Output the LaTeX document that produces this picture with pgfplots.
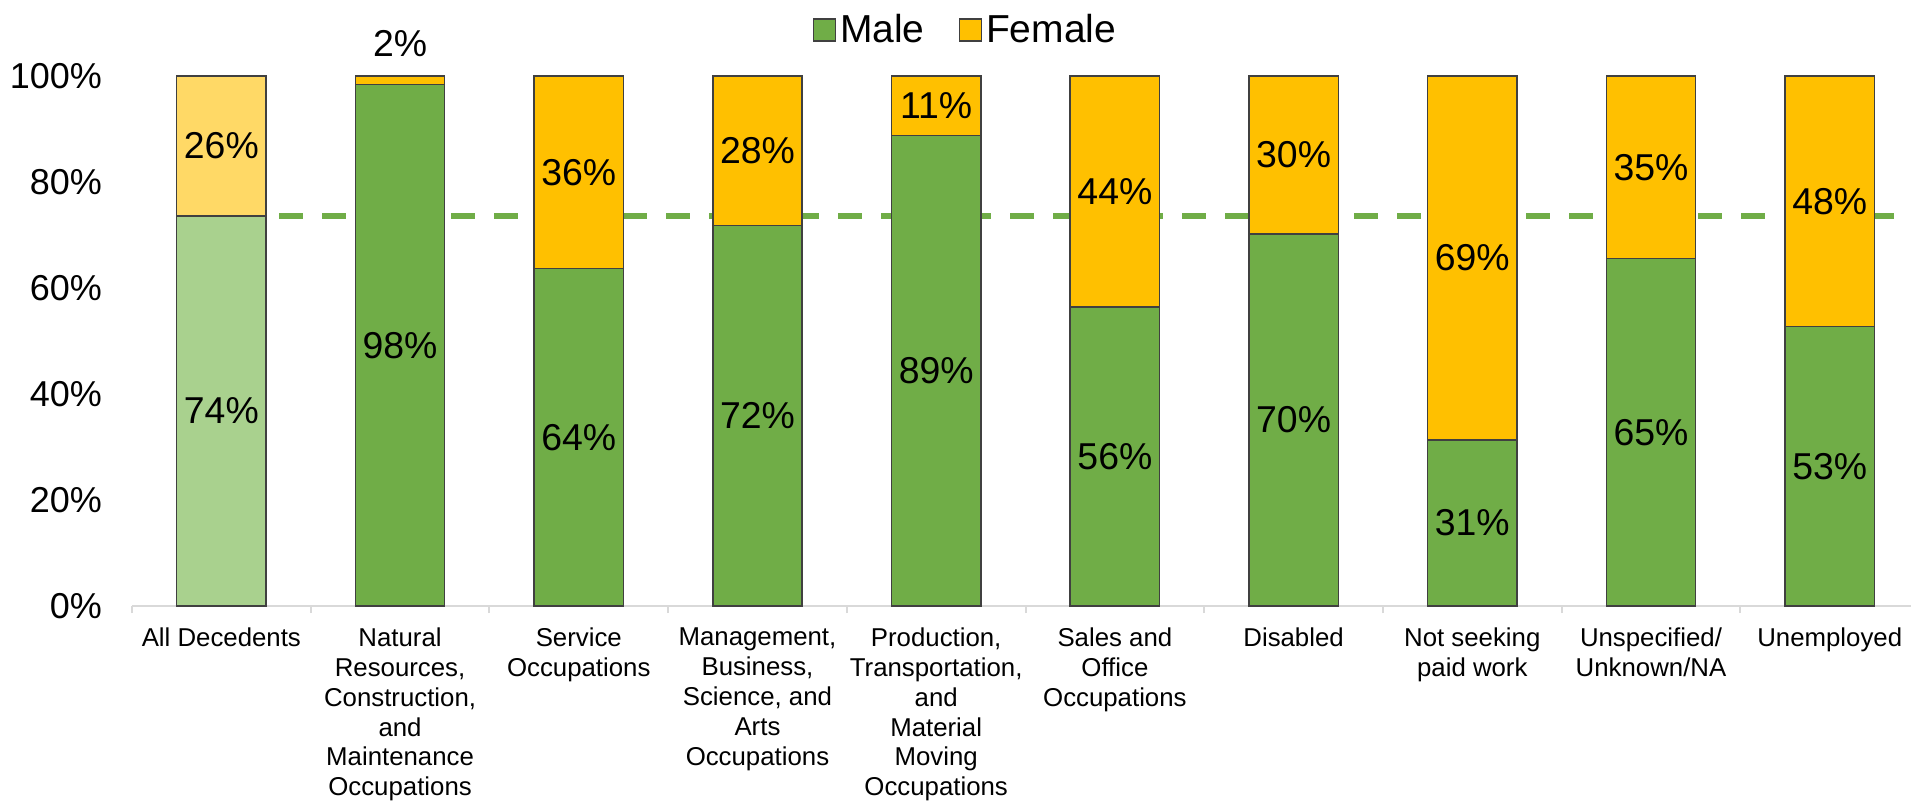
\documentclass[border=0pt]{standalone}
\usepackage{pgfplots}
\pgfplotsset{compat=1.18}
\usepackage{pgfplotstable}
\usepackage{fontspec}
\setmainfont{Liberation Sans}
\definecolor{male}{HTML}{70AD47}
\definecolor{female}{HTML}{FFC000}
\definecolor{lmale}{HTML}{A9D18E}
\definecolor{lfemale}{HTML}{FFD966}
\definecolor{edge}{HTML}{404040}
\definecolor{axgray}{HTML}{D9D9D9}
\pgfplotstableread{
x male female total my fy ml fl
1 98.4 1.6 100 49.2 106.2 98 2
2 63.7 36.3 100 31.85 81.85 64 36
3 71.8 28.2 100 35.9 85.9 72 28
4 88.8 11.2 100 44.4 94.4 89 11
5 56.4 43.6 100 28.2 78.2 56 44
6 70.2 29.8 100 35.1 85.1 70 30
7 31.3 68.7 100 15.65 65.65 31 69
8 65.6 34.4 100 32.8 82.8 65 35
9 52.7 47.3 100 26.35 76.35 53 48
}\data
\begin{document}
\begin{tikzpicture}
\useasboundingbox (-66pt,-101pt) rectangle (889.5pt,303pt);
\begin{axis}[
  at={(0,0)}, anchor=south west,
  scale only axis, width=889.5pt, height=265pt,
  xmin=-0.5, xmax=9.455, ymin=0, ymax=100,
  clip=false,
  axis x line*=bottom, axis y line*=left,
  y axis line style={draw=none},
  x axis line style={draw=axgray, line width=1.25pt},
  /pgf/number format/assume math mode=true,
  ytick={0,20,...,100},
  yticklabel={\pgfmathprintnumber{\tick}\%},
  yticklabel style={font=\fontsize{18}{20}\selectfont, xshift=-11.5pt},
  ytick style={draw=none},
  xtick={0,...,9},
  xticklabels={{All Decedents},{Natural\\Resources,\\Construction,\\and\\Maintenance\\Occupations},{Service\\Occupations},{Management,\\Business,\\Science, and\\Arts\\Occupations},{Production,\\Transportation,\\and\\Material\\Moving\\Occupations},{Sales and\\Office\\Occupations},{Disabled},{Not seeking\\paid work},{Unspecified/\\Unknown/NA},{Unemployed}},
  xticklabel style={font=\fontsize{12.9}{14.9}\selectfont, align=center, anchor=north, yshift=-7.5pt},
  major x tick style={draw=none},
  minor xtick={-0.5,0.5,...,8.5},
  minor x tick style={draw=axgray, line width=1pt},
  tick align=outside,
  major tick length=0pt,
  minor tick length=3.5pt,
  legend style={at={(0.469,1.087)}, anchor=center, draw=none, fill=none,
    legend columns=2, font=\fontsize{19.5}{22}\selectfont,
    /tikz/every even column/.append style={column sep=15pt}},
]
\addlegendimage{legend image code/.code={\draw[fill=male,draw=edge,line width=0.75pt] (0,-5.5pt) rectangle (11pt,5.5pt);}}
\addlegendentry{Male}
\addlegendimage{legend image code/.code={\draw[fill=female,draw=edge,line width=0.75pt] (0,-5.5pt) rectangle (11pt,5.5pt);}}
\addlegendentry{Female}
% average line
\addplot[draw=male, line width=3pt, dash pattern=on 12pt off 9.5pt, forget plot] coordinates {(0.3226,73.6) (9.455,73.6)};
% bars
\addplot[ybar, bar shift=0pt, bar width=0.5, fill=female, draw=edge, line width=0.75pt, forget plot] table[x=x, y=total]{\data};
\addplot[ybar, bar shift=0pt, bar width=0.5, fill=male, draw=edge, line width=0.75pt, forget plot] table[x=x, y=male]{\data};
\addplot[ybar, bar shift=0pt, bar width=0.5, fill=lfemale, draw=edge, line width=0.75pt, forget plot] coordinates {(0,100)};
\addplot[ybar, bar shift=0pt, bar width=0.5, fill=lmale, draw=edge, line width=0.75pt, forget plot] coordinates {(0,73.6)};
% labels
\pgfplotsset{lbl/.style={draw=none, mark=none, forget plot, nodes near coords={\pgfplotspointmeta\%}, point meta=explicit symbolic,
   every node near coord/.style={anchor=center, font=\fontsize{18.7}{20}\selectfont, text=black}}}
\addplot[lbl] table[x=x, y=my, meta=ml]{\data};
\addplot[lbl] table[x=x, y=fy, meta=fl]{\data};
\addplot[lbl] coordinates {(0,36.8) [74] (0,86.8) [26]};
\end{axis}
\end{tikzpicture}
\end{document}
